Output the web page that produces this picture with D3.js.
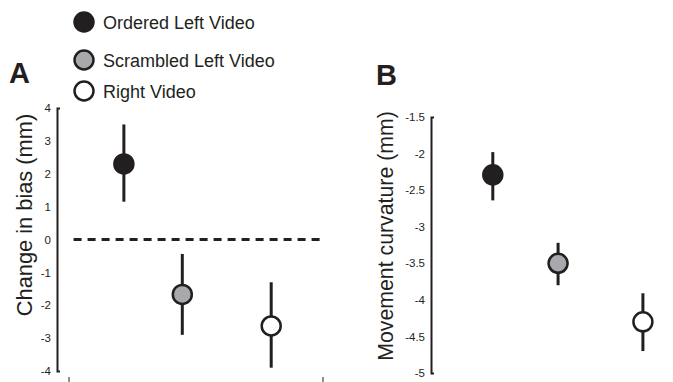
<!DOCTYPE html>
<html>
<head>
<meta charset="utf-8">
<script src="https://cdn.jsdelivr.net/npm/d3@7"></script>
<style>
  body { margin: 0; background: #fff; }
  text { font-family: "Liberation Sans", Arial, Helvetica, sans-serif; fill: #231f20; }
</style>
</head>
<body>
<div id="chart"></div>
<script>
// conditions
const conditions = ["Ordered Left Video", "Scrambled Left Video", "Right Video"]
const fills = ["#231f20", "#a7a9ac", "#ffffff"]

// panel A: change in bias (mm)
const biasX = [2.2, 4.5, 8.0]
const biasMean = [2.3, -1.67, -2.63]
const biasLow = [1.15, -2.9, -3.9]
const biasHigh = [3.5, -0.44, -1.3]
const biasTicks = [4, 3, 2, 1, 0, -1, -2, -3, -4]

// panel B: movement curvature (mm)
const curvX = [2.0, 4.57, 7.91]
const curvMean = [-2.29, -3.5, -4.3]
const curvLow = [-2.64, -3.8, -4.7]
const curvHigh = [-1.98, -3.22, -3.91]
const curvTicks = [-1.5, -2, -2.5, -3, -3.5, -4, -4.5, -5]

const dark = "#231f20"
const width = 673, height = 382

const svg = d3.select('#chart')
    .append("svg")
    .attr("width", width)
    .attr("height", height)

// legend
const legendY = [22, 60, 91]
const legend = svg.append("g")
legend.selectAll("circle")
    .data(conditions)
    .join("circle")
    .attr("cx", 84)
    .attr("cy", (d, i) => legendY[i])
    .attr("r", 9.5)
    .attr("fill", (d, i) => fills[i])
    .attr("stroke", dark)
    .attr("stroke-width", 2.5)
legend.selectAll("text")
    .data(conditions)
    .join("text")
    .attr("x", 103)
    .attr("y", (d, i) => legendY[i] + 6.5)
    .attr("font-size", 18)
    .text(d => d)

function panel(opts) {
    const y = d3.scaleLinear().domain(opts.domain).range([opts.top, opts.bottom])
    const x = d3.scaleLinear().domain([0, 10]).range([opts.left + 11, opts.left + 265])

    const g = svg.append("g")

    // y axis (end caps point inward, no inner ticks)
    const ax = g.append("g")
        .attr("transform", `translate(${opts.left},0)`)
        .call(d3.axisLeft(y).tickValues(opts.ticks)
            .tickSizeInner(0).tickSizeOuter(-3).tickPadding(6))
    ax.select(".domain").attr("stroke", dark).attr("stroke-width", 2)
    ax.selectAll(".tick text").attr("font-size", 11.5).attr("fill", dark)
        .attr("font-family", "'Liberation Sans', Arial, sans-serif")
        .text(d => d3.format("~g")(d).replace("−", "-"))

    // axis title
    g.append("text")
        .attr("transform", `translate(${opts.titleX},${opts.titleY}) rotate(-90)`)
        .attr("text-anchor", "middle")
        .attr("font-size", opts.titleSize)
        .text(opts.title)

    // panel letter
    g.append("text")
        .attr("x", opts.letterX)
        .attr("y", opts.letterY)
        .attr("font-size", 29)
        .attr("font-weight", "bold")
        .text(opts.letter)

    if (opts.zeroLine) {
        g.append("line")
            .attr("x1", x(0.22)).attr("x2", x(10))
            .attr("y1", y(0)).attr("y2", y(0))
            .attr("stroke", dark)
            .attr("stroke-width", 3)
            .attr("stroke-dasharray", "8,6")
    }

    // error bars
    g.selectAll(".err")
        .data(opts.xs)
        .join("line")
        .attr("class", "err")
        .attr("x1", d => x(d)).attr("x2", d => x(d))
        .attr("y1", (d, i) => y(opts.low[i]))
        .attr("y2", (d, i) => y(opts.high[i]))
        .attr("stroke", dark)
        .attr("stroke-width", 3)

    // points
    g.selectAll(".pt")
        .data(opts.xs)
        .join("circle")
        .attr("class", "pt")
        .attr("cx", d => x(d))
        .attr("cy", (d, i) => y(opts.mean[i]))
        .attr("r", 9.5)
        .attr("fill", (d, i) => fills[i])
        .attr("stroke", dark)
        .attr("stroke-width", 2.5)

    return { x, y }
}

const A = panel({
    left: 57, top: 108, bottom: 371, domain: [4, -4], ticks: biasTicks,
    xs: biasX, mean: biasMean, low: biasLow, high: biasHigh,
    title: "Change in bias (mm)", titleX: 32, titleY: 215, titleSize: 21.8,
    letter: "A", letterX: 9, letterY: 83,
    zeroLine: true
})

// small x ticks at the bottom of panel A
svg.selectAll(".xtick")
    .data([0, 10])
    .join("line")
    .attr("class", "xtick")
    .attr("x1", d => A.x(d) + 1).attr("x2", d => A.x(d) + 1)
    .attr("y1", 377).attr("y2", 382)
    .attr("stroke", dark)
    .attr("stroke-width", 1)

panel({
    left: 431, top: 117, bottom: 373, domain: [-1.5, -5], ticks: curvTicks,
    xs: curvX, mean: curvMean, low: curvLow, high: curvHigh,
    title: "Movement curvature (mm)", titleX: 393, titleY: 236, titleSize: 21.3,
    letter: "B", letterX: 376, letterY: 85,
    zeroLine: false
})
</script>
</body>
</html>
